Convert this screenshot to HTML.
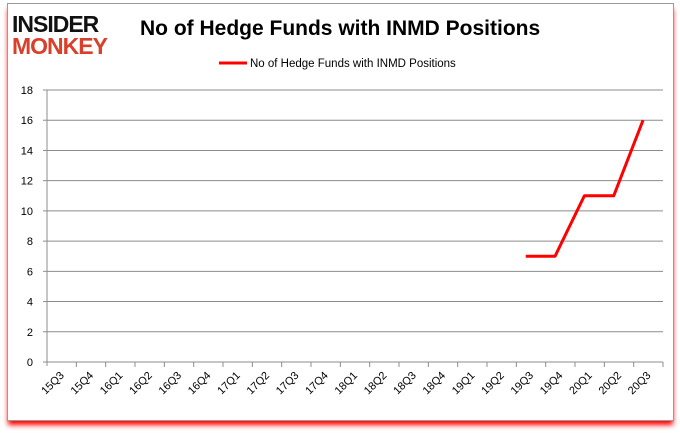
<!DOCTYPE html>
<html><head><meta charset="utf-8"><style>
body{margin:0;width:680px;height:433px;background:#fff;overflow:hidden;font-family:"Liberation Sans",sans-serif}
#frame{position:absolute;left:7px;top:3px;width:665px;height:416px;border:1px solid #9a9a9a;background:#fff;box-shadow:0 5px 5px -1px #f00}
</style></head><body>
<div id="frame"></div>
<svg width="680" height="433" style="position:absolute;left:0;top:0">
<g font-family="Liberation Sans" font-weight="bold">
<text x="12" y="32" font-size="23" fill="#111" letter-spacing="-1">INSIDER</text>
<text x="12" y="54" font-size="23" fill="#d9402b" letter-spacing="-1">MONKEY</text>
</g>
<text x="140" y="35" font-size="21" font-weight="bold" fill="#000">No of Hedge Funds with INMD Positions</text>
<line x1="219" y1="63" x2="247" y2="63" stroke="red" stroke-width="3"/>
<text x="250" y="67" font-size="11.5" fill="#000">No of Hedge Funds with INMD Positions</text>
<g id="grid"></g><g id="axes"></g><g id="series"></g>
</svg>
<script>
const categories=["15Q3","15Q4","16Q1","16Q2","16Q3","16Q4","17Q1","17Q2","17Q3","17Q4","18Q1","18Q2","18Q3","18Q4","19Q1","19Q2","19Q3","19Q4","20Q1","20Q2","20Q3"];
const values=[null,null,null,null,null,null,null,null,null,null,null,null,null,null,null,null,7,7,11,11,16];
const yTicks=[0,2,4,6,8,10,12,14,16,18];
const X0=47,X1=663,Y0=362,Y1=90,YMAX=18;
const slot=(X1-X0)/categories.length;
const xs=i=>X0+(i+0.32)*slot, ys=v=>Y0-(v/YMAX)*(Y0-Y1);
const NS="http://www.w3.org/2000/svg";
function mk(t,a,p){const e=document.createElementNS(NS,t);for(const k in a)e.setAttribute(k,a[k]);p.appendChild(e);return e;}
const grid=document.getElementById('grid'),axes=document.getElementById('axes'),series=document.getElementById('series');
yTicks.forEach(v=>{
 const l=mk('line',{x1:X0,x2:X1,y1:ys(v),y2:ys(v),stroke:'#8c8c8c','stroke-width':1},grid);
 
 
 mk('line',{x1:X0-4,x2:X0,y1:ys(v),y2:ys(v),stroke:'#8c8c8c'},axes);
 const t=mk('text',{x:X0-14,y:ys(v)+4,'font-size':11,'text-anchor':'end',fill:'#000'},axes);
 t.textContent=v;
 
 
});
mk('line',{x1:X0,x2:X0,y1:Y1,y2:Y0+4,stroke:'#8c8c8c'},axes);
categories.forEach((c,i)=>{
 const xe=X0+(i+1)*slot;
 mk('line',{x1:xe,x2:xe,y1:Y0,y2:Y0+5,stroke:'#8c8c8c'},axes);
 const x=X0+(i+0.5)*slot+3,y=Y0+14;
 const t=mk('text',{x:x,y:y,'font-size':11,'text-anchor':'end',fill:'#000',transform:`rotate(-45 ${x} ${y})`},axes);
 t.textContent=c;
 
 
});
let d='';values.forEach((v,i)=>{if(v!=null)d+=(d?'L':'M')+xs(i)+' '+ys(v);});
const p=mk('path',{d:d,fill:'none',stroke:'red','stroke-width':3,'stroke-linejoin':'round'},series);


</script>
</body></html>
